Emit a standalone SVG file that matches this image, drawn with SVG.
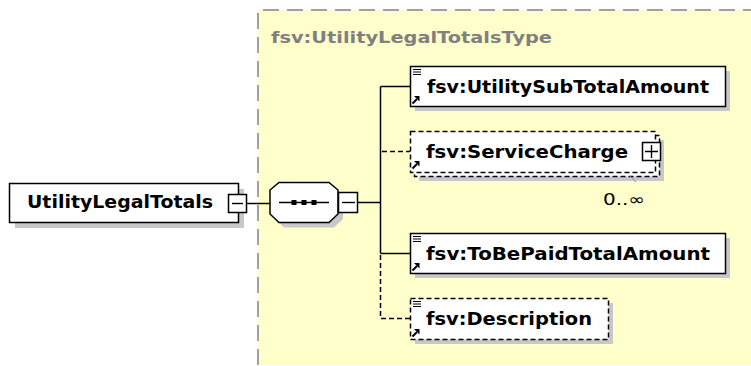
<svg xmlns="http://www.w3.org/2000/svg" xmlns:xlink="http://www.w3.org/1999/xlink" width="751" height="366" viewBox="0 0 751 366">
<style>
.bg{fill:#FFFFCC}
.frame{stroke:#A0A0A0;stroke-width:2;stroke-dasharray:16,8;fill:none}
.shadow{fill:#C8C8C8}
.box{fill:#FFFFFF;stroke:#000;stroke-width:1.5}
.dbox{fill:#FFFFFF;stroke:#000;stroke-width:1.5;stroke-dasharray:5,3}
.lbl{font-family:"DejaVu Sans",Verdana,sans-serif;font-weight:bold;font-size:17px;fill:#000}
.ttl{font-family:"DejaVu Sans",Verdana,sans-serif;font-weight:bold;font-size:16px;fill:#808080}
.occ{font-family:"DejaVu Sans",Verdana,sans-serif;font-size:16px;fill:#000}
.conn{stroke:#000;stroke-width:1.5;fill:none}
.dash{stroke:#000;stroke-width:1.5;fill:none;stroke-dasharray:5,3}
.sym{stroke:#000;stroke-width:1.4;fill:none}
</style>
<defs>
<g id="doc"><path d="M0,0.5H8M0,3H8M0,5.5H8" stroke="#000" stroke-width="1"/></g>
<g id="ref"><path d="M0.5,7.5L5,3" stroke="#000" stroke-width="2"/><polygon points="2,0 7.5,0 7.5,5.5" fill="#000"/></g>
</defs>

<rect class="bg" x="258" y="10" width="493" height="355"/>
<path class="frame" d="M258,365V10H751"/>
<text class="ttl" x="271" y="43" textLength="281" lengthAdjust="spacingAndGlyphs">fsv:UtilityLegalTotalsType</text>

<g id="connectors">
<path class="conn" d="M246,203.5H270"/>
<path class="conn" d="M358,202.5H380.5"/>
<path class="conn" d="M380.5,86.5V253.5"/>
<path class="conn" d="M380.5,86.5H410"/>
<path class="conn" d="M380.5,253.5H410"/>
<path class="dash" d="M382,151.5H410"/>
<path class="dash" d="M380.5,255V318.5H410"/>
</g>

<g id="root">
<rect class="shadow" x="15" y="189" width="229" height="39"/>
<rect class="box" x="9.5" y="183.5" width="229" height="39"/>
<text class="lbl" x="27" y="208" textLength="186" lengthAdjust="spacingAndGlyphs">UtilityLegalTotals</text>
<rect class="box" x="228.5" y="194.5" width="18" height="18"/>
<path class="sym" d="M232,203.5H243"/>
</g>

<g id="sequence">
<polygon class="shadow" points="284,187 334,187 343,195 343,219 334,227.5 284,227.5 275,219 275,195"/>
<polygon class="box" points="279,182.5 329,182.5 338,190 338,214 329,222.5 279,222.5 270,214 270,190"/>
<path d="M279,202.5H329" stroke="#000" stroke-width="1.4"/>
<rect x="291.5" y="200" width="5" height="5" fill="#000"/>
<rect x="301.5" y="200" width="5" height="5" fill="#000"/>
<rect x="311.5" y="200" width="5" height="5" fill="#000"/>
<rect class="box" x="338.5" y="192.5" width="19" height="20"/>
<path class="sym" d="M342,202.5H355"/>
</g>

<g id="subtotal">
<rect class="shadow" x="415" y="71" width="315" height="40"/>
<rect class="box" x="410.5" y="66.5" width="315" height="40"/>
<use xlink:href="#doc" x="413" y="69"/>
<use xlink:href="#ref" x="412" y="96"/>
<text class="lbl" x="427" y="93" textLength="282" lengthAdjust="spacingAndGlyphs">fsv:UtilitySubTotalAmount</text>
</g>

<g id="servicecharge">
<rect class="shadow" x="419" y="140" width="245" height="41"/>
<rect class="dbox" x="414.5" y="135.5" width="245" height="41"/>
<rect class="dbox" x="410.5" y="131.5" width="245" height="41"/>
<use xlink:href="#ref" x="412" y="161"/>
<text class="lbl" x="426" y="158" textLength="202" lengthAdjust="spacingAndGlyphs">fsv:ServiceCharge</text>
<rect class="box" x="642.5" y="142.5" width="18" height="18"/>
<path class="sym" d="M645,151.5H658M651.5,145V158"/>
<path d="M630,176L636,182" stroke="#909090" stroke-width="1"/>
<text class="occ" x="603" y="205" textLength="42" lengthAdjust="spacingAndGlyphs">0..∞</text>
</g>

<g id="tobepaid">
<rect class="shadow" x="415" y="238" width="315" height="40"/>
<rect class="box" x="410.5" y="233.5" width="315" height="40"/>
<use xlink:href="#doc" x="413" y="236"/>
<use xlink:href="#ref" x="412" y="263"/>
<text class="lbl" x="426" y="260" textLength="284" lengthAdjust="spacingAndGlyphs">fsv:ToBePaidTotalAmount</text>
</g>

<g id="description">
<rect class="shadow" x="415" y="303" width="198" height="41"/>
<rect class="dbox" x="410.5" y="298.5" width="198" height="41"/>
<use xlink:href="#doc" x="413" y="301"/>
<use xlink:href="#ref" x="412" y="329"/>
<text class="lbl" x="426" y="325" textLength="166" lengthAdjust="spacingAndGlyphs">fsv:Description</text>
</g>
</svg>
